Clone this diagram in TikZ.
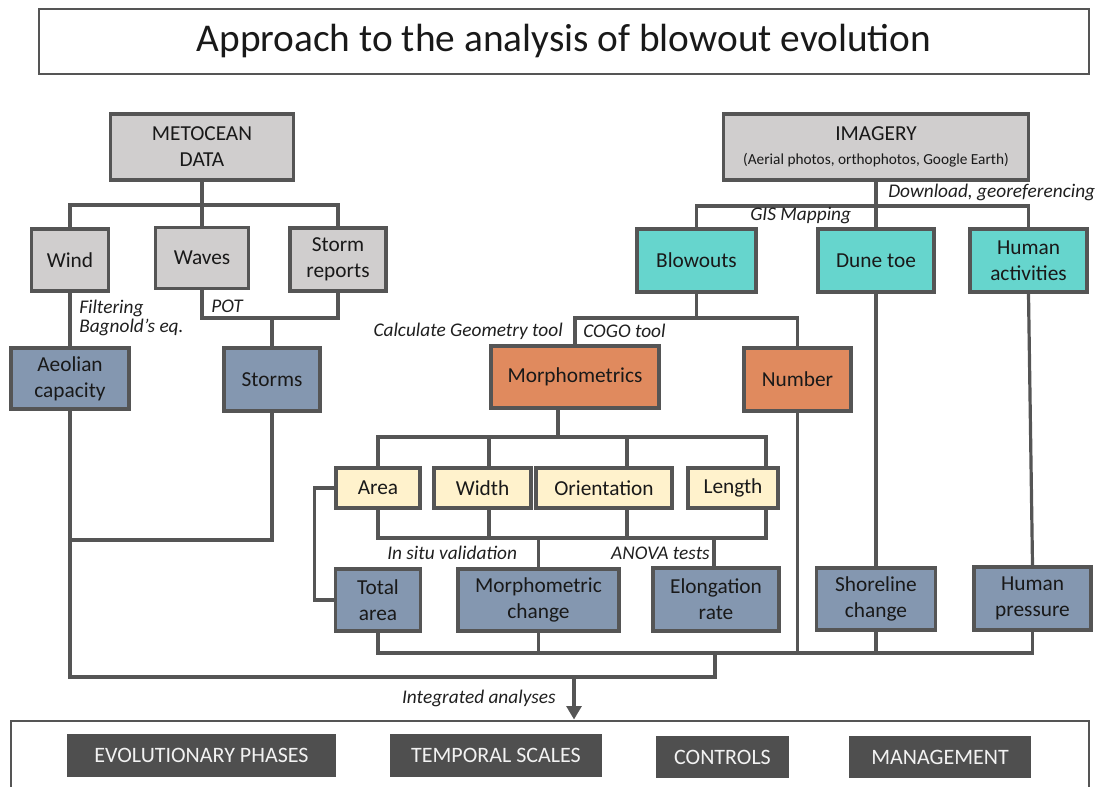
\documentclass[tikz,border=0pt]{standalone}
\usepackage{fontspec}
\setmainfont{Carlito}
\usepackage{xcolor}
\usepackage{tikz}
\usetikzlibrary{arrows.meta}

\definecolor{edgegrey}{HTML}{555555}
\definecolor{datagrey}{HTML}{D0CECE}
\definecolor{mapcyan}{HTML}{66D5CD}
\definecolor{metorange}{HTML}{E08A5E}
\definecolor{attrcream}{HTML}{FFF2CC}
\definecolor{outblue}{HTML}{8497B0}
\definecolor{phasegrey}{HTML}{4F4F4F}

\begin{document}
\begin{tikzpicture}[x=.75pt,y=-.75pt,font=\fontsize{16}{19.5}\selectfont,
    box/.style={draw=edgegrey,line width=2.8pt,inner sep=0pt,align=center,text=black!90},
    link/.style={draw=edgegrey,line width=2.4pt},
    note/.style={font=\itshape\fontsize{14.5}{14}\selectfont,text=black!88,inner sep=0pt,align=left},
    phase/.style={fill=phasegrey,text=white!95!black,inner sep=0pt,minimum height=32pt,font=\fontsize{16.5}{19}\selectfont}]
  \useasboundingbox (0,0) rectangle (1102,787);
  \clip (0,0) rectangle (1102,787);

  % title
  \node[box,line width=2.2pt,minimum width=787.5pt,minimum height=48.75pt,font=\fontsize{29.5}{34}\selectfont] (title) at (564,41.5) {Approach to the analysis of blowout evolution};

  % metocean branch
  \node[box,fill=datagrey,minimum width=137.25pt,minimum height=49.5pt] (meto) at (202,147) {METOCEAN\\DATA};
  \node[box,fill=datagrey,minimum width=57.75pt,minimum height=46.5pt] (wind) at (70,260) {Wind};
  \node[box,fill=datagrey,minimum width=69.75pt,minimum height=45.75pt] (waves) at (202,258) {Waves};
  \node[box,fill=datagrey,minimum width=72pt,minimum height=47.25pt] (storm) at (338,259.5) {Storm\\reports};
  \node[box,fill=outblue,minimum width=88.5pt,minimum height=45.75pt] (aeolian) at (70,378.5) {Aeolian\\capacity};
  \node[box,fill=outblue,minimum width=72pt,minimum height=47.25pt] (storms) at (272,379.5) {Storms};

  % imagery branch
  \node[box,fill=datagrey,minimum width=228.75pt,minimum height=49.5pt] (imagery) at (876,147) {IMAGERY\\[-1pt]{\fontsize{11.5}{13}\selectfont (Aerial photos, orthophotos, Google Earth)}};
  \node[box,fill=mapcyan,minimum width=89.25pt,minimum height=47.25pt] (blowouts) at (696.5,260.5) {Blowouts};
  \node[box,fill=mapcyan,minimum width=87pt,minimum height=47.25pt] (dune) at (876,260.5) {Dune toe};
  \node[box,fill=mapcyan,minimum width=87.75pt,minimum height=47.25pt] (human) at (1028.5,260.5) {Human\\activities};
  \node[box,fill=metorange,minimum width=126pt,minimum height=46.5pt] (morph) at (575,377) {Morphometrics};
  \node[box,fill=metorange,minimum width=80.25pt,minimum height=47.25pt] (number) at (797.5,379.5) {Number};

  % morphometric attributes
  \node[box,fill=attrcream,minimum width=63pt,minimum height=30pt] (area) at (378,488) {Area};
  \node[box,fill=attrcream,minimum width=72.75pt,minimum height=30pt] (width) at (482.5,488) {Width};
  \node[box,fill=attrcream,minimum width=102pt,minimum height=30pt] (orient) at (604,488) {Orientation};
  \node[box,fill=attrcream,minimum width=67.5pt,minimum height=30pt] (length) at (733,488) {Length};

  % outputs
  \node[box,fill=outblue,minimum width=63.75pt,minimum height=46.5pt] (total) at (378,600) {Total\\area};
  \node[box,fill=outblue,minimum width=120.75pt,minimum height=46.5pt] (mchange) at (538.5,600) {Morphometric\\change};
  \node[box,fill=outblue,minimum width=94.5pt,minimum height=47.25pt] (elong) at (716,599.5) {Elongation\\rate};
  \node[box,fill=outblue,minimum width=89.25pt,minimum height=46.5pt] (shore) at (876,599) {Shoreline\\change};
  \node[box,fill=outblue,minimum width=87.75pt,minimum height=47.25pt] (hpress) at (1032.5,598.5) {Human\\pressure};

  % results
  \node[box,line width=2.2pt,minimum width=808.5pt,minimum height=67.5pt] (result) at (550,766) {};
  \foreach \nm/\cx/\cy/\bw/\txt in {evo/201.5/755.5/201.75pt/EVOLUTIONARY PHASES,
      tmp/496/755.5/159pt/TEMPORAL SCALES,
      ctl/722.5/757/99.75pt/CONTROLS,
      mgt/940/757/136.5pt/MANAGEMENT}
    \node[phase,minimum width=\bw] (\nm) at (\cx,\cy) {\txt};

  % bus levels and line positions
  \coordinate (yMeto) at (0,205);
  \coordinate (ySrc) at (0,318);
  \coordinate (yStm) at (0,540);
  \coordinate (yImg) at (0,206);
  \coordinate (yBlw) at (0,318);
  \coordinate (yMor) at (0,437);
  \coordinate (yAtt) at (0,538);
  \coordinate (yOut) at (0,653);
  \coordinate (yInt) at (0,677);
  \coordinate (xMor) at (558,0);
  \coordinate (xWid) at (489,0);
  \coordinate (xOri) at (627,0);
  \coordinate (xLen) at (766,0);
  \coordinate (xElo) at (714,0);
  \coordinate (xJn) at (715,0);
  \coordinate (xArr) at (574,0);

  % metocean links
  \draw[link] (meto.south) -- (waves.north);
  \draw[link] (wind.north) |- (storm.north |- yMeto) -- (storm.north);
  \draw[link] (wind.south) -- (aeolian.north);
  \draw[link] (waves.south) |- (storm.south |- ySrc) -- (storm.south);
  \draw[link] (storms.north) -- (storms.north |- ySrc);
  \draw[link] (storms.south) |- (aeolian.south |- yStm);
  \draw[link] (aeolian.south) |- (xJn |- yInt) -- (xJn |- yOut);

  % imagery links
  \draw[link] (imagery.south) -- (dune.north);
  \draw[link] (blowouts.north) |- (human.north |- yImg) -- (human.north);
  \draw[link] (blowouts.south) -- (blowouts.south |- yBlw);
  \draw[link] (morph.north) |- (number.north |- yBlw) -- (number.north);
  \draw[link] (dune.south) -- (shore.north);
  \draw[link] (human.south) -- (hpress.north);

  % morphometric links
  \draw[link] (morph.south -| xMor) -- (xMor |- yMor);
  \draw[link] (area.north) |- (xLen |- yMor) -- (length.north -| xLen);
  \draw[link] (width.north -| xWid) -- (xWid |- yMor);
  \draw[link] (orient.north -| xOri) -- (xOri |- yMor);
  \draw[link] (area.south) |- (xLen |- yAtt) -- (length.south -| xLen);
  \draw[link] (width.south -| xWid) -- (xWid |- yAtt);
  \draw[link] (orient.south -| xOri) -- (xOri |- yAtt);
  \draw[link] (mchange.north) -- (mchange.north |- yAtt);
  \draw[link] (elong.north -| xElo) -- (xElo |- yAtt);
  \draw[link] (area.west) -- ++(-20,0) |- (total.west);

  % output links
  \draw[link] (total.south) |- (hpress.south |- yOut) -- (hpress.south);
  \draw[link] (mchange.south) -- (mchange.south |- yOut);
  \draw[link] (number.south) -- (number.south |- yOut);
  \draw[link] (shore.south) -- (shore.south |- yOut);
  \draw[link,-{Triangle[length=10pt,width=11pt]}] (xArr |- yInt) -- (xArr |- result.north);

  % method labels
  \node[note,anchor=west] (filt) at (79,318) {Filtering\\Bagnold’s eq.};
  \node[note,anchor=west] (pot) at (211,306) {POT};
  \node[note,anchor=east] (calc) at (563,331) {Calculate Geometry tool};
  \node[note,anchor=west] (cogo) at (583,331) {COGO tool};
  \node[note,anchor=west] (gis) at (750,216) {GIS Mapping};
  \node[note,anchor=west] (down) at (888,192) {Download, georeferencing};
  \node[note,anchor=west] (insitu) at (387,553) {In situ validation};
  \node[note,anchor=east] (anova) at (710,553) {ANOVA tests};
  \node[note,anchor=east] (integ) at (556,698) {Integrated analyses};
\end{tikzpicture}
\end{document}
